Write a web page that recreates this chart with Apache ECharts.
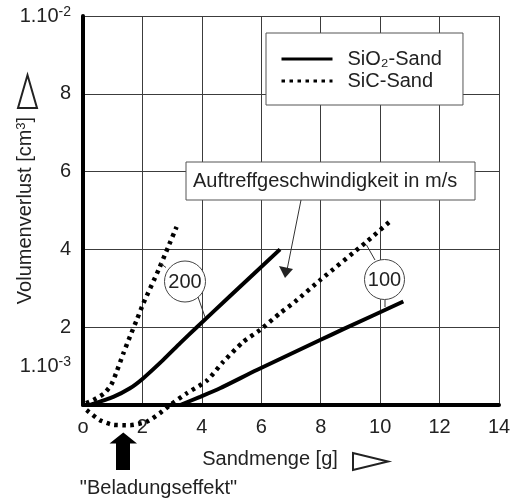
<!DOCTYPE html>
<html>
<head>
<meta charset="utf-8">
<script src="https://cdn.jsdelivr.net/npm/echarts@6/dist/echarts.min.js"></script>
<style>html,body{margin:0;padding:0;background:#fff}#c{width:518px;height:499px}</style>
</head>
<body>
<div id="c"></div>
<script>
// ---- data (x: Sandmenge [g], y: Volumenverlust in 1e-3 cm^3) ----
const xTicks = [0, 2, 4, 6, 8, 10, 12, 14];
const xTickLabels = ['o', '2', '4', '6', '8', '10', '12', '14'];
const yTicks = [0, 2, 4, 6, 8, 10];
const yTickLabels = ['', '2', '4', '6', '8', '{m|1.10}{s|-2}'];
const yExtraTick = 1;
const yExtraLabel = '{m|1.10}{s|-3}';
const seriesNames = ['SiO₂-Sand', 'SiC-Sand'];
const sio2_200 = [[0.24,0],[1.02,0.21],[1.58,0.43],[2.03,0.69],[2.7,1.16],[3.27,1.59],[3.83,2.0],[4.95,2.8],[6.63,4.0]];
const sic_200 = [[0.1,0.05],[0.35,0.13],[0.7,0.29],[0.95,0.52],[1.13,0.85],[1.36,1.33],[1.58,1.76],[1.81,2.19],[2.03,2.61],[2.54,3.47],[2.87,4.07],[3.15,4.58]];
const sio2_100 = [[3.27,0],[3.94,0.21],[4.61,0.43],[5.85,0.9],[7.98,1.67],[8.76,1.95],[10.78,2.66]];
const sic_100 = [[0.12,-0.13],[0.57,-0.39],[1.02,-0.51],[1.58,-0.52],[2.14,-0.43],[2.59,-0.21],[2.93,0],[3.49,0.3],[4.16,0.62],[4.72,1.11],[5.4,1.63],[5.96,1.93],[6.63,2.36],[7.14,2.66],[7.98,3.21],[9.55,4.2],[10.39,4.76]];

const FONT = 'Liberation Sans, Arial, sans-serif';
const TXT = '#222';
const GRIDC = '#3c3c3c';

const chart = echarts.init(document.getElementById('c'), null, {renderer: 'canvas'});

function solid(name, data) {
  return {type: 'line', name, data, showSymbol: false, symbol: 'none', clip: false, smooth: 0.2,
    lineStyle: {color: '#000', width: 4, type: 'solid', cap: 'butt'}, itemStyle: {color: '#000'}, z: 3};
}
function dotted(name, data) {
  return {type: 'line', name, data, showSymbol: false, symbol: 'none', clip: false, smooth: 0.2,
    lineStyle: {color: '#000', width: 4.5, type: [3.5, 4.5], cap: 'butt'}, itemStyle: {color: '#000'}, z: 3};
}

const option = {
  animation: false,
  backgroundColor: '#fff',
  textStyle: {fontFamily: FONT, color: TXT},
  grid: {left: 83, right: 19, top: 16, bottom: 94, containLabel: false, outerBoundsMode: 'none'},
  legend: {
    data: seriesNames,
    orient: 'vertical',
    left: 266, top: 33,
    padding: [16, 21, 14, 14],
    itemWidth: 51, itemHeight: 14, itemGap: 2,
    backgroundColor: '#fff', borderColor: '#555', borderWidth: 1,
    itemStyle: {color: 'rgba(0,0,0,0)', borderWidth: 0, opacity: 0},
    lineStyle: {width: 3},
    textStyle: {fontFamily: FONT, color: TXT, fontSize: 20, padding: [0, 0, 0, 10]}
  },
  xAxis: {
    type: 'value', min: 0, max: 14, interval: 2,
    axisLine: {show: true, onZero: false, lineStyle: {color: '#000', width: 4}},
    axisTick: {show: false},
    splitLine: {show: true, lineStyle: {color: GRIDC, width: 1}},
    axisLabel: {fontSize: 20, color: TXT, fontFamily: FONT, margin: 12,
      formatter: v => xTickLabels[xTicks.indexOf(v)]},
    name: 'Sandmenge [g]', nameLocation: 'middle', nameGap: 44, nameMoveOverlap: false,
    nameTextStyle: {fontSize: 20, color: TXT, fontFamily: FONT, padding: [0, 42, 0, 0]}
  },
  yAxis: [{
    type: 'value', min: 0, max: 10, interval: 2,
    axisLine: {show: true, onZero: false, lineStyle: {color: '#000', width: 4}},
    axisTick: {show: false},
    splitLine: {show: true, lineStyle: {color: GRIDC, width: 1}},
    axisLabel: {fontSize: 20, color: TXT, fontFamily: FONT, margin: 12,
      formatter: v => yTickLabels[yTicks.indexOf(v)],
      rich: {m: {fontSize: 20, fontFamily: FONT, color: TXT, lineHeight: 22},
             s: {fontSize: 14, fontFamily: FONT, color: TXT, verticalAlign: 'top', lineHeight: 13}}},
    name: 'Volumenverlust [cm{sup|3}]', nameLocation: 'middle', nameGap: 48, nameRotate: 90, nameMoveOverlap: false,
    nameTextStyle: {fontSize: 20, color: TXT, fontFamily: FONT,
      rich: {sup: {fontSize: 13, fontFamily: FONT, color: TXT, verticalAlign: 'top', lineHeight: 13}}}
  }, {
    type: 'value', min: 0, max: 10, interval: 1, position: 'left',
    axisLine: {show: false}, axisTick: {show: false}, splitLine: {show: false},
    axisLabel: {fontSize: 20, color: TXT, fontFamily: FONT, margin: 12,
      formatter: v => v === yExtraTick ? yExtraLabel : '',
      rich: {m: {fontSize: 20, fontFamily: FONT, color: TXT, lineHeight: 22},
             s: {fontSize: 14, fontFamily: FONT, color: TXT, verticalAlign: 'top', lineHeight: 13}}}
  }],
  series: [
    solid(seriesNames[0], sio2_200),
    dotted(seriesNames[1], sic_200),
    solid(seriesNames[0], sio2_100),
    dotted(seriesNames[1], sic_100)
  ],
  graphic: [
    // axis-name triangles
    {type: 'polygon', z: 100, shape: {points: [[18, 108], [37, 108], [27.5, 75]]}, style: {fill: 'none', stroke: TXT, lineWidth: 2}},
    {type: 'polygon', z: 100, shape: {points: [[353, 453], [353, 470], [388, 461.5]]}, style: {fill: 'none', stroke: TXT, lineWidth: 2}},
    // annotation box
    {type: 'rect', z: 100, shape: {x: 186, y: 162, width: 289, height: 38}, style: {fill: '#fff', stroke: '#555', lineWidth: 1}},
    {type: 'text', z: 101, x: 193, y: 181, style: {text: 'Auftreffgeschwindigkeit in m/s', font: '20px ' + FONT, fill: TXT, verticalAlign: 'middle'}},
    {type: 'line', z: 100, shape: {x1: 301, y1: 200, x2: 287, y2: 270}, style: {stroke: '#333', lineWidth: 1}},
    {type: 'polygon', z: 100, shape: {points: [[285, 278], [279, 266], [293, 269]]}, style: {fill: '#222'}},
    // circle 200
    {type: 'line', z: 100, shape: {x1: 166, y1: 267.5, x2: 160, y2: 263}, style: {stroke: '#333', lineWidth: 1}},
    {type: 'line', z: 100, shape: {x1: 198, y1: 297, x2: 205, y2: 317}, style: {stroke: '#333', lineWidth: 1}},
    {type: 'circle', z: 100, shape: {cx: 185, cy: 281.5, r: 20.5}, style: {fill: '#fff', stroke: '#444', lineWidth: 1}},
    {type: 'text', z: 101, x: 185, y: 282, style: {text: '200', font: '20px ' + FONT, fill: TXT, align: 'center', verticalAlign: 'middle'}},
    // circle 100
    {type: 'line', z: 100, shape: {x1: 375, y1: 260, x2: 366.5, y2: 245}, style: {stroke: '#333', lineWidth: 1}},
    {type: 'line', z: 100, shape: {x1: 385, y1: 300, x2: 385, y2: 307}, style: {stroke: '#333', lineWidth: 1}},
    {type: 'circle', z: 100, shape: {cx: 384.5, cy: 279.5, r: 20}, style: {fill: '#fff', stroke: '#444', lineWidth: 1}},
    {type: 'text', z: 101, x: 384.5, y: 280, style: {text: '100', font: '20px ' + FONT, fill: TXT, align: 'center', verticalAlign: 'middle'}},
    // Beladungseffekt arrow
    {type: 'polygon', z: 100, shape: {points: [[123.3, 432.5], [137, 443.5], [130, 443.5], [130, 470], [116, 470], [116, 443.5], [109.5, 443.5]]}, style: {fill: '#000'}},
    {type: 'text', z: 101, x: 158.5, y: 488, style: {text: '"Beladungseffekt"', font: '20px ' + FONT, fill: TXT, align: 'center', verticalAlign: 'middle'}}
  ]
};
chart.setOption(option);
</script>
</body>
</html>
